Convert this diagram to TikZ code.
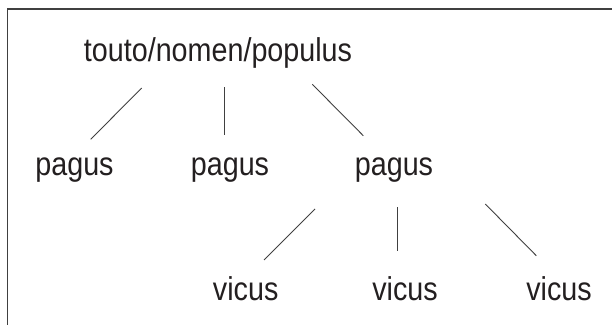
\documentclass[tikz,border=0pt]{standalone}
\usepackage{fontspec}
\setmainfont{Liberation Sans}[FakeStretch=0.87]
\definecolor{ink}{HTML}{231F20}
\definecolor{rule}{HTML}{404040}
\begin{document}
\begin{tikzpicture}[x=1pt,y=-1pt,
  label/.style={inner sep=0pt,anchor=base,text=ink,font=\fontsize{33}{36}\selectfont},
  branch/.style={draw=rule,line width=0.9pt}]
\useasboundingbox (0,0) rectangle (612,324);
% frame (only its upper and left sides fall inside the page)
\begin{scope}
\clip (0,0) rectangle (612,324);
\draw[rule,line width=1.6pt] (7.5,9) rectangle (640,360);
\end{scope}
% words of the hierarchy
\node[label] (root) at (218,61) {touto/nomen/populus};
\node[label] (p1) at (74.5,175.5) {pagus};
\node[label] (p2) at (230,175.5) {pagus};
\node[label] (p3) at (394,175.5) {pagus};
\node[label] (v1) at (245.7,300.5) {vicus};
\node[label] (v2) at (405,300.5) {vicus};
\node[label] (v3) at (559,300.5) {vicus};
% ends of the branch strokes
\coordinate (r1) at (141.7,88);
\coordinate (r2) at (224,87);
\coordinate (r3) at (312.3,84.3);
\coordinate (t1) at (90.7,139.3);
\coordinate (t2) at (224,135);
\coordinate (t3) at (363.3,135.7);
\coordinate (q1) at (315,209);
\coordinate (q2) at (397.7,207.3);
\coordinate (q3) at (485.3,204);
\coordinate (w1) at (264,260);
\coordinate (w2) at (397.7,250.7);
\coordinate (w3) at (536.3,255.7);
\draw[branch] (r1) -- (t1);
\draw[branch] (r2) -- (t2);
\draw[branch] (r3) -- (t3);
\draw[branch] (q1) -- (w1);
\draw[branch] (q2) -- (w2);
\draw[branch] (q3) -- (w3);
\end{tikzpicture}
\end{document}
